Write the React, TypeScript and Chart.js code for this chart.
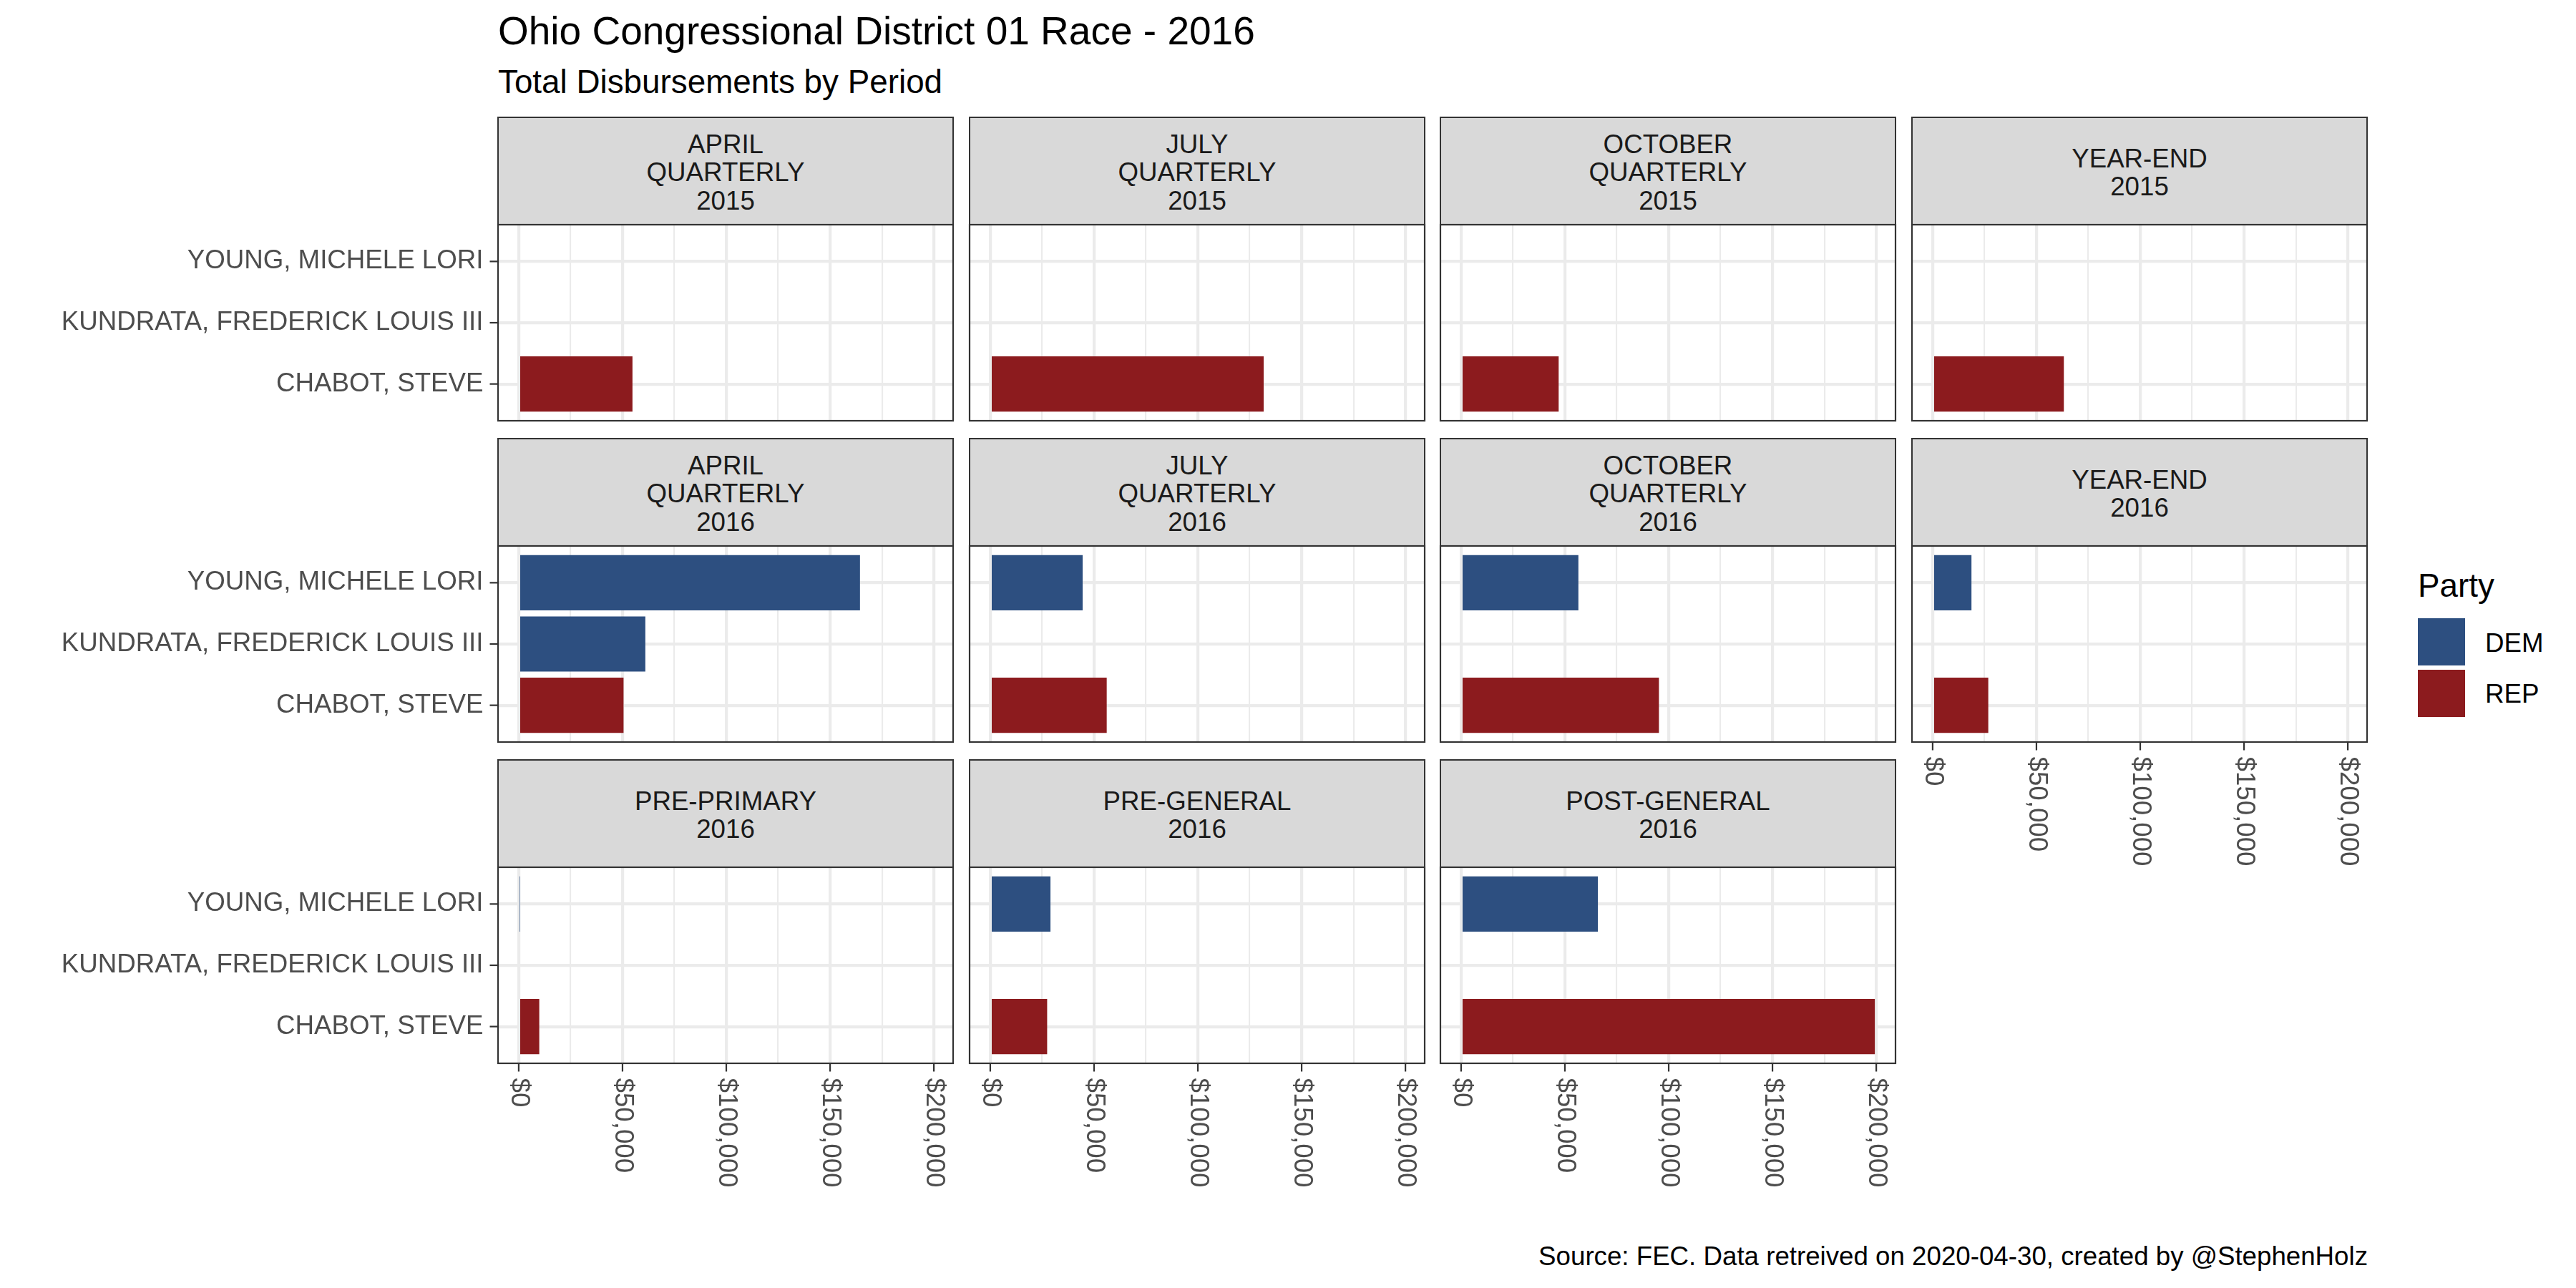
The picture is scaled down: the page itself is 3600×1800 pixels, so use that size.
import React, { useEffect, useRef } from 'react';
import { Chart, registerables } from 'chart.js';

Chart.register(...registerables);

const FONT = '"Liberation Sans", Arial, Helvetica, sans-serif';

// ---------------- data ----------------
const candidates = ['CHABOT, STEVE', 'KUNDRATA, FREDERICK LOUIS III', 'YOUNG, MICHELE LORI'];
const candidateParty = ['REP', 'DEM', 'DEM'];
const parties = ['DEM', 'REP'];
const partyColors = ['#2D4F80', '#8C1B1E'];

const periodLabels = [
  ['APRIL', 'QUARTERLY', '2015'],
  ['JULY', 'QUARTERLY', '2015'],
  ['OCTOBER', 'QUARTERLY', '2015'],
  ['YEAR-END', '2015'],
  ['APRIL', 'QUARTERLY', '2016'],
  ['JULY', 'QUARTERLY', '2016'],
  ['OCTOBER', 'QUARTERLY', '2016'],
  ['YEAR-END', '2016'],
  ['PRE-PRIMARY', '2016'],
  ['PRE-GENERAL', '2016'],
  ['POST-GENERAL', '2016'],
];

// values in order of `candidates` (CHABOT, KUNDRATA, YOUNG)
const aprilQ2015 = [54800, null, null];
const julyQ2015 = [131700, null, null];
const octoberQ2015 = [47000, null, null];
const yearEnd2015 = [63200, null, null];
const aprilQ2016 = [50500, 61000, 164400];
const julyQ2016 = [56100, null, 44500];
const octoberQ2016 = [95300, null, 56500];
const yearEnd2016 = [26800, null, 18700];
const prePrimary2016 = [9900, null, 500];
const preGeneral2016 = [27400, null, 29000];
const postGeneral2016 = [199300, null, 65900];

const periodValues: (number | null)[][] = [
  aprilQ2015, julyQ2015, octoberQ2015, yearEnd2015,
  aprilQ2016, julyQ2016, octoberQ2016, yearEnd2016,
  prePrimary2016, preGeneral2016, postGeneral2016,
];

const xTickValues = [0, 50000, 100000, 150000, 200000];
const xMinorValues = [25000, 75000, 125000, 175000];

const titleText = 'Ohio Congressional District 01 Race - 2016';
const subtitleText = 'Total Disbursements by Period';
const captionText = 'Source: FEC. Data retreived on 2020-04-30, created by @StephenHolz';
const legendTitle = 'Party';

// ---------------- layout ----------------
const NCOL = 4;
const PANEL_W = 636;
const PANEL_H = 274;
const STRIP_H = 150;
const colLeft = [696, 1355, 2013, 2672];
const rowTop = [164, 613, 1062];
const PAD = 4;

const allValues = periodValues.flat().filter((v): v is number => v != null);
const dataMax = Math.max(...allValues);
const xMin = -0.05 * dataMax;
const xMax = 1.05 * dataMax;

const fmtMoney = (v: number) => '$' + v.toLocaleString('en-US');

function Panel({ idx }: { idx: number }) {
  const ref = useRef<HTMLCanvasElement | null>(null);
  const col = idx % NCOL;
  const row = Math.floor(idx / NCOL);
  const showY = col === 0;
  const showX = idx + NCOL >= periodValues.length;
  const yW = showY ? colLeft[0] : PAD;
  const xH = showX ? 240 : PAD;
  const canvasLeft = colLeft[col] - yW;
  const canvasTop = rowTop[row] + STRIP_H - PAD;
  const cw = yW + PANEL_W + PAD;
  const ch = PAD + PANEL_H + xH;

  useEffect(() => {
    const values = periodValues[idx];
    const pts: { x: number; y: number }[] = [];
    const colors: string[] = [];
    values.forEach((v, i) => {
      if (v != null) {
        pts.push({ x: v, y: i });
        colors.push(partyColors[parties.indexOf(candidateParty[i])]);
      }
    });
    const decor = {
      id: 'facetDecor',
      afterDraw(chart: any) {
        const { ctx, chartArea: a, scales } = chart;
        const xs = scales.x;
        const ys = scales.y;
        ctx.save();
        ctx.strokeStyle = '#333333';
        ctx.lineWidth = 2.2;
        ctx.strokeRect(a.left, a.top, a.right - a.left, a.bottom - a.top);
        ctx.font = `36.7px ${FONT}`;
        ctx.fillStyle = '#4D4D4D';
        if (showX) {
          xTickValues.forEach((v) => {
            const px = xs.getPixelForValue(v);
            ctx.beginPath();
            ctx.moveTo(px, a.bottom);
            ctx.lineTo(px, a.bottom + 11.5);
            ctx.stroke();
            ctx.save();
            ctx.translate(px, a.bottom + 11.5 + 9);
            ctx.rotate(Math.PI / 2);
            ctx.textAlign = 'left';
            ctx.textBaseline = 'middle';
            ctx.fillText(fmtMoney(v), 0, 0);
            ctx.restore();
          });
        }
        if (showY) {
          candidates.forEach((name, i) => {
            const py = ys.getPixelForValue(i);
            ctx.beginPath();
            ctx.moveTo(a.left - 11.5, py);
            ctx.lineTo(a.left, py);
            ctx.stroke();
            ctx.textAlign = 'right';
            ctx.textBaseline = 'middle';
            ctx.fillText(name, a.left - 11.5 - 9, py);
          });
        }
        ctx.restore();
      },
    };
    const chart = new Chart(ref.current as HTMLCanvasElement, {
      type: 'bar',
      data: {
        datasets: [
          {
            data: pts as any,
            backgroundColor: colors,
            borderWidth: 0,
            barPercentage: 0.9,
            categoryPercentage: 1.0,
          },
        ],
      },
      options: {
        animation: false,
        responsive: false,
        maintainAspectRatio: false,
        devicePixelRatio: 1,
        indexAxis: 'y',
        layout: { padding: { top: PAD, right: PAD, left: 0, bottom: 0 } },
        plugins: {
          legend: { display: false },
          tooltip: { enabled: false },
          title: { display: false },
        },
        scales: {
          x: {
            type: 'linear',
            min: xMin,
            max: xMax,
            offset: false,
            afterBuildTicks: (s: any) => {
              s.ticks = [...xTickValues, ...xMinorValues]
                .sort((p, q) => p - q)
                .map((v) => ({ value: v }));
            },
            afterFit: (s: any) => {
              s.height = xH;
            },
            ticks: { display: false },
            border: { display: false },
            grid: {
              color: '#EBEBEB',
              offset: false,
              lineWidth: (c: any) => (c.tick && c.tick.value % 50000 === 0 ? 4.2 : 2.1),
              drawTicks: false,
            },
          },
          y: {
            type: 'linear',
            min: -0.6,
            max: candidates.length - 1 + 0.6,
            offset: false,
            afterBuildTicks: (s: any) => {
              s.ticks = candidates.map((_, i) => ({ value: i }));
            },
            afterFit: (s: any) => {
              s.width = yW;
            },
            ticks: { display: false },
            border: { display: false },
            grid: { color: '#EBEBEB', lineWidth: 4.2, drawTicks: false, offset: false },
          },
        },
      } as any,
      plugins: [decor],
    });
    return () => chart.destroy();
  }, [idx]);

  return (
    <canvas
      ref={ref}
      width={cw}
      height={ch}
      style={{ position: 'absolute', left: canvasLeft, top: canvasTop, width: cw, height: ch }}
    />
  );
}

function Strip({ idx }: { idx: number }) {
  const col = idx % NCOL;
  const row = Math.floor(idx / NCOL);
  return (
    <div
      style={{
        position: 'absolute',
        left: colLeft[col] - 1,
        top: rowTop[row] - 1,
        width: PANEL_W + 2,
        height: STRIP_H + 2,
        boxSizing: 'border-box',
        border: '2.2px solid #333333',
        background: '#D9D9D9',
        display: 'flex',
        flexDirection: 'column',
        alignItems: 'center',
        justifyContent: 'center',
        fontFamily: FONT,
        fontSize: 36.7,
        lineHeight: '39.5px',
        color: '#1A1A1A',
        textAlign: 'center',
      }}
    >
      <div style={{ transform: 'translateY(1.8px)' }}>
        {periodLabels[idx].map((l, i) => (
          <div key={i}>{l}</div>
        ))}
      </div>
    </div>
  );
}

function Txt({
  x, baseline, size, color = '#000000', right = false, children,
}: { x: number; baseline: number; size: number; color?: string; right?: boolean; children: React.ReactNode }) {
  const top = baseline - 0.8465 * size;
  const style: React.CSSProperties = {
    position: 'absolute',
    top,
    fontFamily: FONT,
    fontSize: size,
    lineHeight: `${size}px`,
    color,
    whiteSpace: 'nowrap',
  };
  if (right) {
    style.right = 3600 - x;
    style.textAlign = 'right';
  } else {
    style.left = x;
  }
  return <div style={style}>{children}</div>;
}

export default function App() {
  return (
    <div
      style={{
        position: 'absolute',
        left: 0,
        top: 0,
        width: 3600,
        height: 1800,
        background: '#FFFFFF',
        overflow: 'hidden',
      }}
    >
      <Txt x={696} baseline={63} size={55}>{titleText}</Txt>
      <Txt x={696} baseline={131} size={45.8}>{subtitleText}</Txt>
      {periodValues.map((_, i) => (
        <Strip key={'s' + i} idx={i} />
      ))}
      {periodValues.map((_, i) => (
        <Panel key={'p' + i} idx={i} />
      ))}
      <Txt x={3379} baseline={835} size={45.8}>{legendTitle}</Txt>
      {parties.map((p, i) => (
        <React.Fragment key={p}>
          <div
            style={{
              position: 'absolute',
              left: 3379,
              top: 864 + i * 72,
              width: 66,
              height: 66,
              background: partyColors[i],
            }}
          />
          <Txt x={3473} baseline={912 + i * 71} size={36.7}>{p}</Txt>
        </React.Fragment>
      ))}
      <Txt x={3309} baseline={1769} size={36.7} right>{captionText}</Txt>
    </div>
  );
}
